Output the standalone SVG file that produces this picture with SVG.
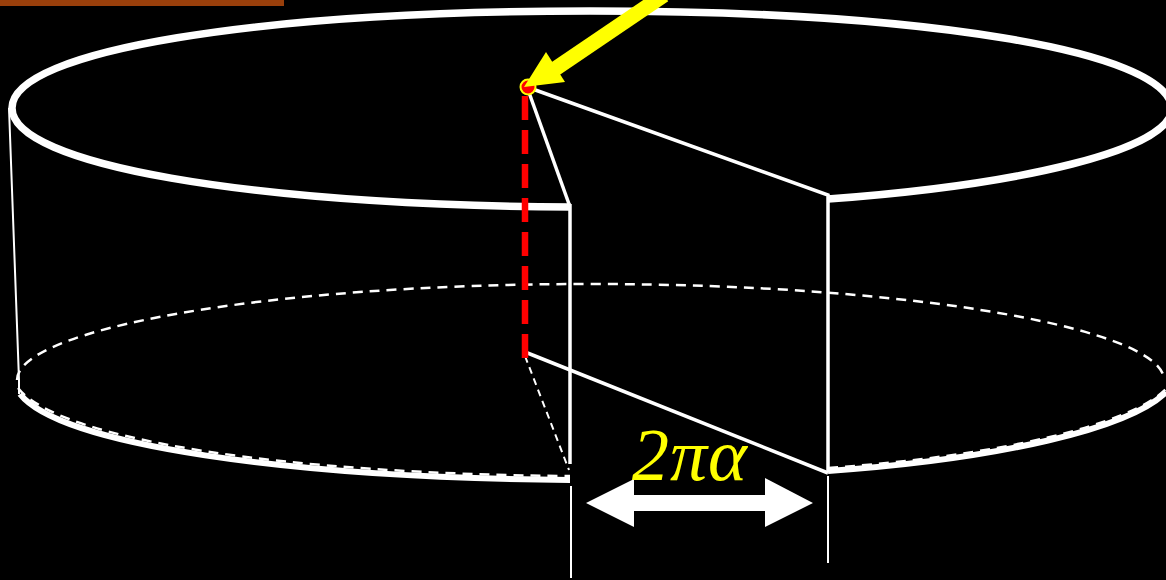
<svg xmlns="http://www.w3.org/2000/svg" width="1166" height="580" viewBox="0 0 1166 580">
<style>
.th{fill:none;stroke:#fff;stroke-width:7.5}
.lo{fill:none;stroke:#fff;stroke-width:6}
.m{fill:none;stroke:#fff;stroke-width:3.5}
.t{fill:none;stroke:#fff;stroke-width:2}
.d{fill:none;stroke:#fff;stroke-width:2.5;stroke-dasharray:10 7}
</style>
<rect width="1166" height="580" fill="#000"/>
<rect x="0" y="-2" width="284" height="8" fill="#993f0b"/>
<g id="connectors">
<path class="th" d="M571 207C250 205 12 165 12 108C12 50 260 11 590 11C920 11 1166 50 1172 108C1172 150 1020 185 828 199"/>
<path class="d" d="M17 380C17 330 260 284 590 284C920 284 1164 330 1164 380"/>
<path class="d" d="M18 388C60 441 290 474 570 476"/>
<path class="d" d="M828 468C1000 456 1130 425 1166 389"/>
<path class="lo" d="M20 394C60 445 290 478 570 480"/>
<path class="lo" d="M828 471C1000 459 1130 428 1166 392"/>
<path class="t" d="M9 108L19 380V394"/>
<path class="m" d="M527 87L569 204"/>
<path class="m" d="M570 204V464"/>
<path class="m" d="M527 87L828 195V472"/>
<path class="m" d="M525 352L828 473"/>
<path d="M525 356L569 470" fill="none" stroke="#fff" stroke-width="2" stroke-dasharray="7 5"/>
<path class="t" d="M571 486V578M828 476V563"/>
<path d="M525 96V358" fill="none" stroke="#f00" stroke-width="6.5" stroke-dasharray="24 10"/>
</g>
<g id="point"><circle cx="528" cy="87" r="7.5" fill="#f00" stroke="#ff0" stroke-width="2"/></g>
<g id="pointer"><path d="M664 -5L552 71" fill="none" stroke="#ff0" stroke-width="15"/><path d="M524 87L546 52L565 82Z" fill="#ff0"/></g>
<g id="width-arrow"><path d="M586 503L634 479V495H765V478L813 503L765 527V511H634V527Z" fill="#fff"/></g>
<g id="label"><text x="632" y="480" font-family="Liberation Serif, serif" font-style="italic" font-size="74" letter-spacing="1" fill="#ff0">2πα</text></g>
</svg>
